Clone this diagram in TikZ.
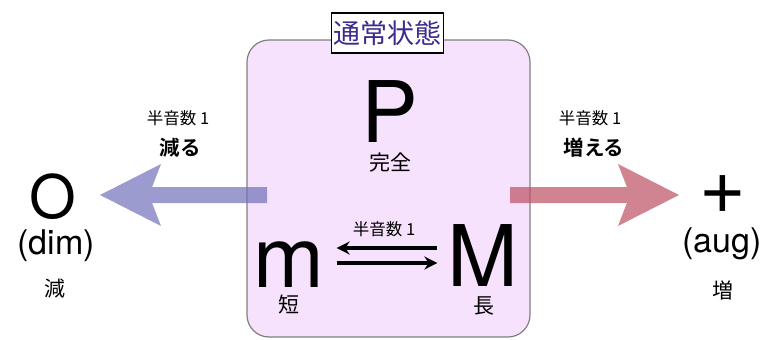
\documentclass[tikz,border=0pt]{standalone}
\usepackage{fontspec}
\setmainfont{TeX Gyre Heros}
\newfontfamily\jp{Noto Sans CJK JP}[BoldFont={Noto Sans CJK JP Bold}]
\usetikzlibrary{arrows.meta}
\definecolor{boxfill}{RGB}{246,226,253}
\definecolor{boxline}{RGB}{128,128,128}
\definecolor{titlecol}{RGB}{62,42,140}
\definecolor{dimcol}{RGB}{112,112,186}
\definecolor{augcol}{RGB}{188,80,98}

\begin{document}
\begin{tikzpicture}[x=1pt,y=-1pt,>={Stealth[length=13pt,width=13pt]},
  big/.style={font=\fontsize{85}{85}\selectfont,inner sep=0pt},
  mark big/.style={font=\fontsize{#1}{#1}\selectfont,inner sep=0pt},
  quality/.style={font=\fontsize{34}{34}\selectfont,inner sep=0pt},
  jpsmall/.style={font=\jp\fontsize{16.5}{16.5}\selectfont,inner sep=0pt},
  jpmid/.style={font=\jp\fontsize{21}{21}\selectfont,inner sep=0pt},
  jpbold/.style={font=\jp\bfseries\fontsize{20.5}{20.5}\selectfont,inner sep=0pt},
  thin arrow/.style={line width=3.3pt,shorten <=12pt,shorten >=10pt},
  fat/.style={line width=16pt,-{Stealth[length=61pt,width=62pt,inset=12pt,line width=0pt]}}]
\useasboundingbox (0,0) rectangle (766,340);
% ---------- normal state box ----------
\node[draw=boxline,line width=1.2pt,fill=boxfill,rounded corners=22pt,
      minimum width=283,minimum height=297] (box) at (388.5,188.5) {};
\node[big] (P) at (390,112) {P};
\node[jpmid] (kanzen) at (390,163) {完全};
\node[big,anchor=base] (m) at (289,287) {m};
\node[big,anchor=base] (M) at (483,286) {M};
\node[jpmid] (tan) at (289,305) {短};
\node[jpmid] (cho) at (484,306) {長};
\node[jpsmall] (semiMid) at (384,229) {半音数 1};
% m <-> M
\draw[<-,thin arrow] ([yshift=39pt]m.base east) -- ([yshift=39pt]m.base east -| M.west);
\draw[->,thin arrow] ([yshift=24pt]m.base east) -- ([yshift=24pt]m.base east -| M.west);
% ---------- diminished ----------
\node[mark big=60] (dim) at (53,197) {O};
\node[quality] (dimTxt) at (56,246) {(dim)};
\node[jpmid] (gen) at (55,289) {減};
\node[jpsmall] (semiL) at (178,118) {半音数 1};
\node[jpbold] (heru) at (180,148) {減る};
\coordinate (dimStart) at (267,195);
\coordinate (dimTip) at (100,195);
\begin{scope}[transparency group,opacity=0.7]
\draw[fat,dimcol] (dimStart) -- (dimTip);
\end{scope}
% ---------- augmented ----------
\node[mark big=80] (aug) at (723,195) {+};
\node[quality] (augTxt) at (722,244) {(aug)};
\node[jpmid] (zo) at (723,290) {増};
\node[jpsmall] (semiR) at (590,118) {半音数 1};
\node[jpbold] (fueru) at (594,148) {増える};
\coordinate (augStart) at (510,195);
\coordinate (augTip) at (679,195);
\begin{scope}[transparency group,opacity=0.7]
\draw[fat,augcol] (augStart) -- (augTip);
\end{scope}
% ---------- title ----------
\node[draw,fill=white,line width=1.2pt,font=\jp\fontsize{27}{27}\selectfont,text=titlecol,
      inner xsep=2pt,minimum height=40] (title) at (387.5,33) {通常状態};
\end{tikzpicture}
\end{document}
